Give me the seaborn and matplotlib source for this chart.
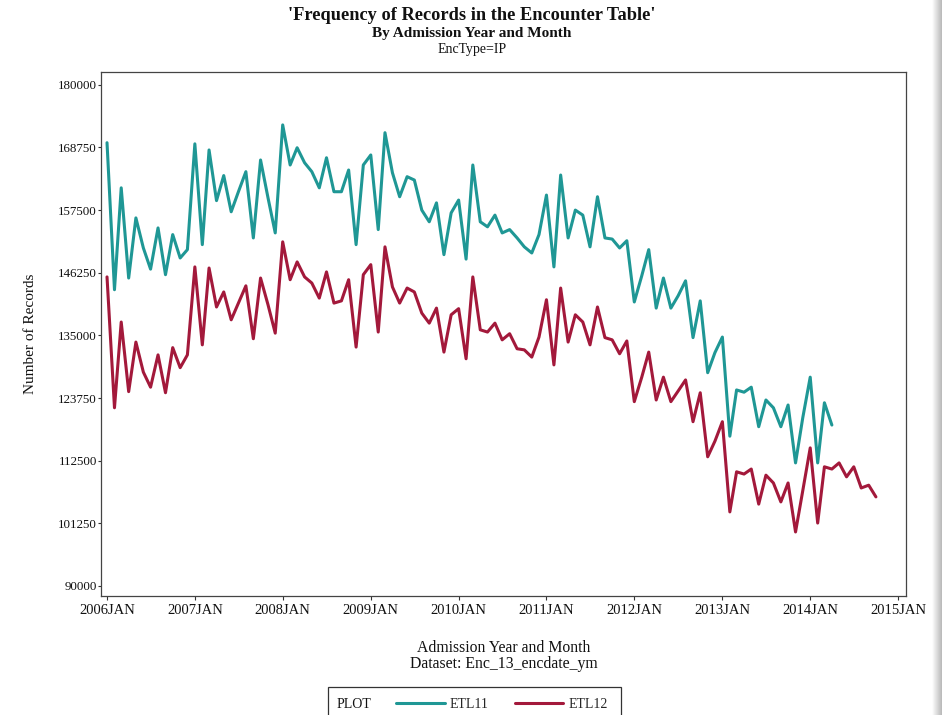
import matplotlib
matplotlib.use("Agg")
import matplotlib.pyplot as plt
import matplotlib.dates as mdates
from matplotlib.lines import Line2D
from matplotlib.patches import Rectangle
from matplotlib.ticker import FixedLocator, FuncFormatter
import numpy as np
import pandas as pd
import seaborn as sns

# Monthly record counts, starting 2006 JAN
etl11 = [
    169600, 143200, 161500, 145300, 156100, 150700, 146900, 154300, 145900, 153100, 148900, 150400,
    169400, 151300, 168300, 159200, 163700, 157200, 160800, 164400, 152500, 166500, 159700, 153400,
    172800, 165600, 168700, 166000, 164400, 161500, 166900, 160800, 160800, 164700, 151300, 165600,
    167400, 154000, 171400, 164200, 159900, 163500, 162900, 157500, 155400, 158800, 149500, 157000,
    159300, 148700, 165600, 155400, 154500, 156600, 153400, 154000, 152500, 150900, 149800, 153100,
    160200, 147300, 163800, 152500, 157500, 156600, 150900, 159900, 152500, 152300, 150700, 152000,
    141000, 145700, 150400, 139900, 145300, 139900, 142100, 144800, 134600, 141200, 128300, 131900,
    134700, 116900, 125200, 124800, 125700, 118600, 123400, 122000, 118600, 122500, 112100, 120200,
    127500, 112100, 122900, 118900,
]
etl12 = [
    145500, 122000, 137400, 124900, 133800, 128400, 125700, 131500, 124700, 132800, 129200, 131500,
    147300, 133300, 147100, 140100, 142800, 137800, 140800, 143900, 134400, 145300, 140500, 135400,
    151800, 145000, 148200, 145500, 144400, 141700, 146400, 140800, 141200, 145000, 132900, 145900,
    147700, 135600, 150900, 143700, 140800, 143500, 142800, 139000, 137200, 139900, 132000, 138700,
    139800, 130800, 145500, 136000, 135600, 137200, 134200, 135300, 132600, 132400, 131100, 134700,
    141400, 129700, 143500, 133800, 138700, 137400, 133300, 140100, 134600, 134200, 131700, 134000,
    123100, 127500, 132000, 123400, 127500, 123100, 125000, 127000, 119500, 124700, 113200, 116000,
    119500, 103300, 110500, 110100, 111000, 104700, 109900, 108500, 105100, 108500, 99700, 107100,
    114800, 101300, 111400, 111000, 112100, 109600, 111400, 107600, 108100, 106000,
]
series_names = ["ETL11", "ETL12"]
series_colors = ["#1f9795", "#a3193b"]
y_ticks = [90000, 101250, 112500, 123750, 135000, 146250, 157500, 168750, 180000]
x_tick_years = list(range(2006, 2016))

frames = []
for name, vals in zip(series_names, [etl11, etl12]):
    frames.append(pd.DataFrame({
        "month": pd.date_range("2006-01-01", periods=len(vals), freq="MS"),
        "records": vals,
        "series": name,
    }))
df = pd.concat(frames, ignore_index=True)

sns.set_theme(style="white")
plt.rcParams["font.family"] = ["Liberation Serif", "DejaVu Serif"]

W, H = 942, 715
fig = plt.figure(figsize=(W / 100, H / 100), dpi=100)
ax = fig.add_axes([101 / W, 1 - 596 / H, (906 - 101) / W, (596 - 72) / H])

sns.lineplot(
    data=df, x="month", y="records", hue="series",
    palette=dict(zip(series_names, series_colors)),
    estimator=None, linewidth=2.2, legend=False, ax=ax,
)

ax.set_xlim(pd.Timestamp("2006-01-01") - pd.Timedelta(days=25),
            pd.Timestamp("2015-01-01") + pd.Timedelta(days=33))
ax.set_ylim(88200, 182300)

ax.xaxis.set_major_locator(FixedLocator([mdates.date2num(pd.Timestamp(f"{y}-01-01")) for y in x_tick_years]))
ax.xaxis.set_major_formatter(FuncFormatter(lambda v, p: mdates.num2date(v).strftime("%Y%b").upper()))
ax.yaxis.set_major_locator(FixedLocator(y_ticks))
ax.yaxis.set_major_formatter(FuncFormatter(lambda v, p: f"{int(round(v))}"))

ax.tick_params(axis="both", which="major", direction="out", length=3, width=0.8,
               color="#333333", labelcolor="#111111", bottom=True, left=True)
ax.tick_params(axis="x", labelsize=10.5, pad=3)
ax.tick_params(axis="y", labelsize=9.4, pad=0.5, length=2.5)
for s in ax.spines.values():
    s.set_color("#444444")
    s.set_linewidth(0.9)

ax.set_xlabel("Admission Year and Month\nDataset: Enc_13_encdate_ym", fontsize=11.3,
              color="#111111", linespacing=1.0, va="center")
ax.xaxis.set_label_coords(0.5, -(656 - 596) / (596 - 72))
ax.set_ylabel("Number of Records", fontsize=11, color="#111111", va="center")
ax.yaxis.set_label_coords(-(101 - 30) / (906 - 101), 0.5)

# Titles
cx = 472 / W
fig.text(cx, 1 - 16 / H, "'Frequency of Records in the Encounter Table'",
         ha="center", va="center", fontsize=13.2, fontweight="bold", color="#111111")
fig.text(cx, 1 - 33 / H, "By Admission Year and Month",
         ha="center", va="center", fontsize=11, fontweight="bold", color="#111111")
fig.text(cx, 1 - 50 / H, "EncType=IP",
         ha="center", va="center", fontsize=10, color="#111111")

# Legend row below the axes
handles = [Line2D([], [], color=c, linewidth=2.2) for c in series_colors]
leg = fig.legend(handles, series_names, loc="center left",
                 bbox_to_anchor=(396 / W, 1 - 704 / H), ncol=2, frameon=False,
                 fontsize=10, handlelength=3.5, handletextpad=0.35, columnspacing=1.9,
                 borderpad=0.0, borderaxespad=0.0)
fig.text(337 / W, 1 - 704 / H, "PLOT", ha="left", va="center", fontsize=10, color="#111111")
fig.patches.append(Rectangle((328 / W, -0.02), (621 - 328) / W, (715 - 687) / H + 0.02,
                             transform=fig.transFigure, fill=False, edgecolor="#333333",
                             linewidth=0.9))

# Window edge shading on the right
edge = fig.add_axes([932 / W, 0, 10 / W, 1])
edge.imshow(np.linspace(1.0, 0.72, 64)[None, :], cmap="gray", vmin=0, vmax=1,
            aspect="auto", extent=[0, 1, 0, 1])
edge.set_axis_off()

fig.savefig("out.png", dpi=100)
